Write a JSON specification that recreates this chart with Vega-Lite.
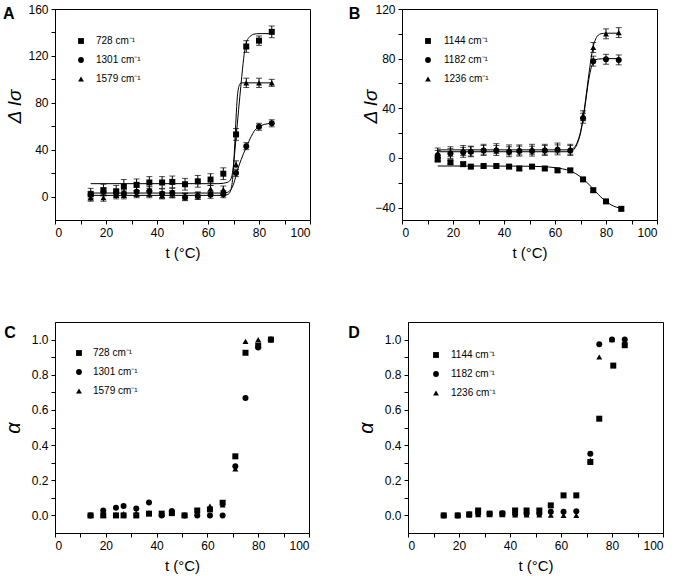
{
  "$schema": "https://vega.github.io/schema/vega-lite/v6.json",
  "padding": {"left": 2, "top": 2, "right": 0, "bottom": 0},
  "background": "white",
  "config": {
    "font": "Liberation Sans",
    "view": {"stroke": "black", "strokeWidth": 1},
    "axis": {"domainColor": "black", "tickColor": "black", "labelColor": "black", "titleColor": "black", "labelFontSize": 12, "titleFontSize": 15, "titleFontWeight": "normal", "grid": false, "tickSize": 4, "labelPadding": 3, "labelFont": "Liberation Sans", "titleFont": "Liberation Sans"},
    "legend": {"orient": "none", "labelFontSize": 10, "labelColor": "black", "symbolSize": 34, "symbolFillColor": "black", "symbolStrokeColor": "black", "rowPadding": 7, "labelFont": "Liberation Sans"},
    "title": {"font": "Liberation Sans", "fontSize": 16, "fontWeight": "bold", "color": "black", "anchor": "start", "frame": "bounds", "baseline": "top", "offset": 0}
  },
  "datasets": {
    "a_pts": [
      {"t":14,"v":2,"e":5,"s":"\u2007728 cm\u207b\u00b9"},{"t":19,"v":5.5,"e":5,"s":"\u2007728 cm\u207b\u00b9"},{"t":24,"v":4.5,"e":5,"s":"\u2007728 cm\u207b\u00b9"},{"t":27,"v":8.5,"e":6,"s":"\u2007728 cm\u207b\u00b9"},{"t":32,"v":10,"e":5,"s":"\u2007728 cm\u207b\u00b9"},{"t":37,"v":12,"e":5,"s":"\u2007728 cm\u207b\u00b9"},{"t":42,"v":12,"e":5,"s":"\u2007728 cm\u207b\u00b9"},{"t":46,"v":12.5,"e":5,"s":"\u2007728 cm\u207b\u00b9"},{"t":51,"v":10.5,"e":5,"s":"\u2007728 cm\u207b\u00b9"},{"t":56,"v":13,"e":5,"s":"\u2007728 cm\u207b\u00b9"},{"t":61,"v":14.5,"e":5,"s":"\u2007728 cm\u207b\u00b9"},{"t":66,"v":19.5,"e":5,"s":"\u2007728 cm\u207b\u00b9"},{"t":71,"v":53,"e":5,"s":"\u2007728 cm\u207b\u00b9"},{"t":75,"v":128,"e":5,"s":"\u2007728 cm\u207b\u00b9"},{"t":80,"v":133,"e":4,"s":"\u2007728 cm\u207b\u00b9"},{"t":85,"v":140.5,"e":5,"s":"\u2007728 cm\u207b\u00b9"},
      {"t":14,"v":1.5,"e":3,"s":"1301 cm\u207b\u00b9"},{"t":19,"v":4,"e":3,"s":"1301 cm\u207b\u00b9"},{"t":24,"v":3,"e":3,"s":"1301 cm\u207b\u00b9"},{"t":27,"v":2.5,"e":3,"s":"1301 cm\u207b\u00b9"},{"t":32,"v":4,"e":4,"s":"1301 cm\u207b\u00b9"},{"t":37,"v":4.5,"e":4,"s":"1301 cm\u207b\u00b9"},{"t":42,"v":2.5,"e":4,"s":"1301 cm\u207b\u00b9"},{"t":46,"v":3,"e":4,"s":"1301 cm\u207b\u00b9"},{"t":51,"v":-0.5,"e":3,"s":"1301 cm\u207b\u00b9"},{"t":56,"v":0.5,"e":3,"s":"1301 cm\u207b\u00b9"},{"t":61,"v":1.5,"e":3,"s":"1301 cm\u207b\u00b9"},{"t":66,"v":2,"e":3,"s":"1301 cm\u207b\u00b9"},{"t":71,"v":20,"e":3,"s":"1301 cm\u207b\u00b9"},{"t":75,"v":43,"e":3,"s":"1301 cm\u207b\u00b9"},{"t":80,"v":59.5,"e":3,"s":"1301 cm\u207b\u00b9"},{"t":85,"v":62.5,"e":3,"s":"1301 cm\u207b\u00b9"},
      {"t":14,"v":-1,"e":3,"s":"1579 cm\u207b\u00b9"},{"t":19,"v":-1,"e":3,"s":"1579 cm\u207b\u00b9"},{"t":24,"v":1,"e":3,"s":"1579 cm\u207b\u00b9"},{"t":27,"v":1,"e":3,"s":"1579 cm\u207b\u00b9"},{"t":32,"v":2,"e":3,"s":"1579 cm\u207b\u00b9"},{"t":37,"v":2,"e":3,"s":"1579 cm\u207b\u00b9"},{"t":42,"v":1,"e":3,"s":"1579 cm\u207b\u00b9"},{"t":46,"v":2,"e":3,"s":"1579 cm\u207b\u00b9"},{"t":51,"v":0,"e":3,"s":"1579 cm\u207b\u00b9"},{"t":56,"v":1,"e":3,"s":"1579 cm\u207b\u00b9"},{"t":61,"v":6.5,"e":3,"s":"1579 cm\u207b\u00b9"},{"t":66,"v":6,"e":3,"s":"1579 cm\u207b\u00b9"},{"t":71,"v":27.5,"e":3,"s":"1579 cm\u207b\u00b9"},{"t":75,"v":97,"e":4,"s":"1579 cm\u207b\u00b9"},{"t":80,"v":97,"e":4,"s":"1579 cm\u207b\u00b9"},{"t":85,"v":97,"e":3,"s":"1579 cm\u207b\u00b9"}
    ],
    "a_fit": [
      {"t":14,"v":11,"s":"728"},{"t":40,"v":11,"s":"728"},{"t":64,"v":11,"s":"728"},{"t":66,"v":11.3,"s":"728"},{"t":67,"v":11.8,"s":"728"},{"t":68,"v":12.5,"s":"728"},{"t":69,"v":15,"s":"728"},{"t":69.5,"v":19,"s":"728"},{"t":70,"v":27,"s":"728"},{"t":70.5,"v":38,"s":"728"},{"t":71,"v":50,"s":"728"},{"t":71.5,"v":62,"s":"728"},{"t":72,"v":74,"s":"728"},{"t":73,"v":97,"s":"728"},{"t":74,"v":118,"s":"728"},{"t":74.5,"v":126,"s":"728"},{"t":75,"v":131,"s":"728"},{"t":76,"v":135.5,"s":"728"},{"t":77,"v":137.5,"s":"728"},{"t":78,"v":138.5,"s":"728"},{"t":80,"v":139,"s":"728"},{"t":85,"v":139,"s":"728"},
      {"t":14,"v":3,"s":"1301"},{"t":40,"v":3,"s":"1301"},{"t":66,"v":3,"s":"1301"},{"t":67,"v":3.3,"s":"1301"},{"t":68,"v":4,"s":"1301"},{"t":69,"v":6,"s":"1301"},{"t":70,"v":10.5,"s":"1301"},{"t":71,"v":18,"s":"1301"},{"t":72,"v":25.5,"s":"1301"},{"t":73,"v":31.5,"s":"1301"},{"t":74,"v":37,"s":"1301"},{"t":75,"v":42,"s":"1301"},{"t":76,"v":47,"s":"1301"},{"t":77,"v":51.5,"s":"1301"},{"t":78,"v":55.5,"s":"1301"},{"t":79,"v":58,"s":"1301"},{"t":80,"v":59.5,"s":"1301"},{"t":82,"v":61.5,"s":"1301"},{"t":85,"v":62.5,"s":"1301"},
      {"t":14,"v":1,"s":"1579"},{"t":40,"v":1,"s":"1579"},{"t":66,"v":1,"s":"1579"},{"t":67,"v":1.3,"s":"1579"},{"t":68,"v":2,"s":"1579"},{"t":69,"v":6,"s":"1579"},{"t":69.5,"v":12,"s":"1579"},{"t":70,"v":25,"s":"1579"},{"t":70.5,"v":45,"s":"1579"},{"t":71,"v":67,"s":"1579"},{"t":71.5,"v":85,"s":"1579"},{"t":72,"v":93,"s":"1579"},{"t":72.5,"v":96,"s":"1579"},{"t":73,"v":97,"s":"1579"},{"t":85,"v":97,"s":"1579"}
    ],
    "b_pts": [
      {"t":14,"v":-1.3,"e":1.5,"s":"1144 cm\u207b\u00b9"},{"t":19,"v":-3.5,"e":1.5,"s":"1144 cm\u207b\u00b9"},{"t":24,"v":-5,"e":1.5,"s":"1144 cm\u207b\u00b9"},{"t":27,"v":-7,"e":1.5,"s":"1144 cm\u207b\u00b9"},{"t":32,"v":-6.5,"e":1.5,"s":"1144 cm\u207b\u00b9"},{"t":37,"v":-6.5,"e":1.5,"s":"1144 cm\u207b\u00b9"},{"t":42,"v":-7,"e":1.5,"s":"1144 cm\u207b\u00b9"},{"t":46,"v":-8.5,"e":1.5,"s":"1144 cm\u207b\u00b9"},{"t":51,"v":-7,"e":1.5,"s":"1144 cm\u207b\u00b9"},{"t":56,"v":-8.5,"e":1.5,"s":"1144 cm\u207b\u00b9"},{"t":61,"v":-10,"e":1.5,"s":"1144 cm\u207b\u00b9"},{"t":66,"v":-10,"e":1.5,"s":"1144 cm\u207b\u00b9"},{"t":71,"v":-17.3,"e":1.5,"s":"1144 cm\u207b\u00b9"},{"t":75,"v":-26,"e":1.5,"s":"1144 cm\u207b\u00b9"},{"t":80,"v":-35,"e":1.5,"s":"1144 cm\u207b\u00b9"},{"t":86,"v":-41,"e":1.5,"s":"1144 cm\u207b\u00b9"},
      {"t":14,"v":2,"e":4,"s":"1182 cm\u207b\u00b9"},{"t":19,"v":3.5,"e":4,"s":"1182 cm\u207b\u00b9"},{"t":24,"v":4.5,"e":4,"s":"1182 cm\u207b\u00b9"},{"t":27,"v":5,"e":4,"s":"1182 cm\u207b\u00b9"},{"t":32,"v":6,"e":4,"s":"1182 cm\u207b\u00b9"},{"t":37,"v":6,"e":4,"s":"1182 cm\u207b\u00b9"},{"t":42,"v":5,"e":4,"s":"1182 cm\u207b\u00b9"},{"t":46,"v":5.5,"e":4,"s":"1182 cm\u207b\u00b9"},{"t":51,"v":5.5,"e":4,"s":"1182 cm\u207b\u00b9"},{"t":56,"v":6,"e":4,"s":"1182 cm\u207b\u00b9"},{"t":61,"v":6.5,"e":4,"s":"1182 cm\u207b\u00b9"},{"t":66,"v":6,"e":4,"s":"1182 cm\u207b\u00b9"},{"t":71,"v":32,"e":4,"s":"1182 cm\u207b\u00b9"},{"t":75,"v":78,"e":4,"s":"1182 cm\u207b\u00b9"},{"t":80,"v":79.5,"e":4,"s":"1182 cm\u207b\u00b9"},{"t":85,"v":79,"e":4,"s":"1182 cm\u207b\u00b9"},
      {"t":14,"v":4,"e":4,"s":"1236 cm\u207b\u00b9"},{"t":19,"v":5,"e":4,"s":"1236 cm\u207b\u00b9"},{"t":24,"v":6,"e":4,"s":"1236 cm\u207b\u00b9"},{"t":27,"v":5.5,"e":4,"s":"1236 cm\u207b\u00b9"},{"t":32,"v":7,"e":4,"s":"1236 cm\u207b\u00b9"},{"t":37,"v":7.5,"e":4,"s":"1236 cm\u207b\u00b9"},{"t":42,"v":6.5,"e":4,"s":"1236 cm\u207b\u00b9"},{"t":46,"v":6.5,"e":4,"s":"1236 cm\u207b\u00b9"},{"t":51,"v":7,"e":4,"s":"1236 cm\u207b\u00b9"},{"t":56,"v":7,"e":4,"s":"1236 cm\u207b\u00b9"},{"t":61,"v":8,"e":4,"s":"1236 cm\u207b\u00b9"},{"t":66,"v":7,"e":4,"s":"1236 cm\u207b\u00b9"},{"t":71,"v":34,"e":4,"s":"1236 cm\u207b\u00b9"},{"t":75,"v":89,"e":4,"s":"1236 cm\u207b\u00b9"},{"t":80,"v":100,"e":4,"s":"1236 cm\u207b\u00b9"},{"t":85,"v":101,"e":4,"s":"1236 cm\u207b\u00b9"}
    ],
    "b_fit": [
      {"t":14,"v":-6.5,"s":"1144"},{"t":30,"v":-6.5,"s":"1144"},{"t":45,"v":-6.6,"s":"1144"},{"t":55,"v":-7,"s":"1144"},{"t":60,"v":-7.8,"s":"1144"},{"t":63,"v":-8.8,"s":"1144"},{"t":66,"v":-10.5,"s":"1144"},{"t":68,"v":-12.5,"s":"1144"},{"t":70,"v":-15.2,"s":"1144"},{"t":72,"v":-18.7,"s":"1144"},{"t":74,"v":-22.8,"s":"1144"},{"t":76,"v":-27.3,"s":"1144"},{"t":78,"v":-31.5,"s":"1144"},{"t":80,"v":-35,"s":"1144"},{"t":82,"v":-37.8,"s":"1144"},{"t":84,"v":-39.6,"s":"1144"},{"t":86,"v":-40.8,"s":"1144"},
      {"t":14,"v":5,"s":"1182"},{"t":40,"v":5,"s":"1182"},{"t":66,"v":5,"s":"1182"},{"t":67,"v":6,"s":"1182"},{"t":68,"v":8.5,"s":"1182"},{"t":69,"v":13,"s":"1182"},{"t":70,"v":20,"s":"1182"},{"t":71,"v":31,"s":"1182"},{"t":72,"v":45,"s":"1182"},{"t":73,"v":60,"s":"1182"},{"t":74,"v":71,"s":"1182"},{"t":75,"v":77,"s":"1182"},{"t":76,"v":79,"s":"1182"},{"t":77,"v":79.7,"s":"1182"},{"t":80,"v":80,"s":"1182"},{"t":85,"v":80,"s":"1182"},
      {"t":14,"v":6.5,"s":"1236"},{"t":40,"v":6.5,"s":"1236"},{"t":66,"v":6.5,"s":"1236"},{"t":67,"v":7.5,"s":"1236"},{"t":68,"v":9.5,"s":"1236"},{"t":69,"v":14,"s":"1236"},{"t":70,"v":21,"s":"1236"},{"t":71,"v":32,"s":"1236"},{"t":72,"v":47,"s":"1236"},{"t":73,"v":63,"s":"1236"},{"t":74,"v":78,"s":"1236"},{"t":75,"v":90,"s":"1236"},{"t":76,"v":96,"s":"1236"},{"t":77,"v":99,"s":"1236"},{"t":78,"v":100,"s":"1236"},{"t":80,"v":100.5,"s":"1236"},{"t":85,"v":100.5,"s":"1236"}
    ],
    "c_pts": [
      {"t":14,"v":0,"s":"\u2007728 cm\u207b\u00b9"},{"t":19,"v":0,"s":"\u2007728 cm\u207b\u00b9"},{"t":24,"v":0,"s":"\u2007728 cm\u207b\u00b9"},{"t":27,"v":0,"s":"\u2007728 cm\u207b\u00b9"},{"t":32,"v":0,"s":"\u2007728 cm\u207b\u00b9"},{"t":37,"v":0.01,"s":"\u2007728 cm\u207b\u00b9"},{"t":42,"v":0.01,"s":"\u2007728 cm\u207b\u00b9"},{"t":46,"v":0.013,"s":"\u2007728 cm\u207b\u00b9"},{"t":51,"v":0,"s":"\u2007728 cm\u207b\u00b9"},{"t":56,"v":0.028,"s":"\u2007728 cm\u207b\u00b9"},{"t":61,"v":0.034,"s":"\u2007728 cm\u207b\u00b9"},{"t":66,"v":0.072,"s":"\u2007728 cm\u207b\u00b9"},{"t":71,"v":0.336,"s":"\u2007728 cm\u207b\u00b9"},{"t":75,"v":0.925,"s":"\u2007728 cm\u207b\u00b9"},{"t":80,"v":0.966,"s":"\u2007728 cm\u207b\u00b9"},{"t":85,"v":1.0,"s":"\u2007728 cm\u207b\u00b9"},
      {"t":14,"v":0,"s":"1301 cm\u207b\u00b9"},{"t":19,"v":0.028,"s":"1301 cm\u207b\u00b9"},{"t":24,"v":0.044,"s":"1301 cm\u207b\u00b9"},{"t":27,"v":0.053,"s":"1301 cm\u207b\u00b9"},{"t":32,"v":0.04,"s":"1301 cm\u207b\u00b9"},{"t":37,"v":0.074,"s":"1301 cm\u207b\u00b9"},{"t":42,"v":0,"s":"1301 cm\u207b\u00b9"},{"t":46,"v":0.025,"s":"1301 cm\u207b\u00b9"},{"t":51,"v":0,"s":"1301 cm\u207b\u00b9"},{"t":56,"v":0,"s":"1301 cm\u207b\u00b9"},{"t":61,"v":0,"s":"1301 cm\u207b\u00b9"},{"t":66,"v":0,"s":"1301 cm\u207b\u00b9"},{"t":71,"v":0.279,"s":"1301 cm\u207b\u00b9"},{"t":75,"v":0.668,"s":"1301 cm\u207b\u00b9"},{"t":80,"v":0.955,"s":"1301 cm\u207b\u00b9"},{"t":85,"v":1.0,"s":"1301 cm\u207b\u00b9"},
      {"t":14,"v":0,"s":"1579 cm\u207b\u00b9"},{"t":19,"v":0.005,"s":"1579 cm\u207b\u00b9"},{"t":24,"v":0.005,"s":"1579 cm\u207b\u00b9"},{"t":27,"v":0.01,"s":"1579 cm\u207b\u00b9"},{"t":32,"v":0.015,"s":"1579 cm\u207b\u00b9"},{"t":37,"v":0.015,"s":"1579 cm\u207b\u00b9"},{"t":42,"v":0.01,"s":"1579 cm\u207b\u00b9"},{"t":46,"v":0.02,"s":"1579 cm\u207b\u00b9"},{"t":51,"v":0,"s":"1579 cm\u207b\u00b9"},{"t":56,"v":0.015,"s":"1579 cm\u207b\u00b9"},{"t":61,"v":0.053,"s":"1579 cm\u207b\u00b9"},{"t":66,"v":0.06,"s":"1579 cm\u207b\u00b9"},{"t":71,"v":0.264,"s":"1579 cm\u207b\u00b9"},{"t":75,"v":0.99,"s":"1579 cm\u207b\u00b9"},{"t":80,"v":1.0,"s":"1579 cm\u207b\u00b9"},{"t":85,"v":1.0,"s":"1579 cm\u207b\u00b9"}
    ],
    "d_pts": [
      {"t":14,"v":0,"s":"1144 cm\u207b\u00b9"},{"t":19.5,"v":0,"s":"1144 cm\u207b\u00b9"},{"t":24,"v":0.006,"s":"1144 cm\u207b\u00b9"},{"t":27.5,"v":0.028,"s":"1144 cm\u207b\u00b9"},{"t":32,"v":0.01,"s":"1144 cm\u207b\u00b9"},{"t":37,"v":0.01,"s":"1144 cm\u207b\u00b9"},{"t":42,"v":0.028,"s":"1144 cm\u207b\u00b9"},{"t":46.5,"v":0.028,"s":"1144 cm\u207b\u00b9"},{"t":51.5,"v":0.028,"s":"1144 cm\u207b\u00b9"},{"t":56,"v":0.057,"s":"1144 cm\u207b\u00b9"},{"t":61,"v":0.114,"s":"1144 cm\u207b\u00b9"},{"t":66,"v":0.114,"s":"1144 cm\u207b\u00b9"},{"t":71.5,"v":0.304,"s":"1144 cm\u207b\u00b9"},{"t":75,"v":0.55,"s":"1144 cm\u207b\u00b9"},{"t":80.5,"v":0.852,"s":"1144 cm\u207b\u00b9"},{"t":85,"v":0.968,"s":"1144 cm\u207b\u00b9"},
      {"t":14,"v":0,"s":"1182 cm\u207b\u00b9"},{"t":19.5,"v":0,"s":"1182 cm\u207b\u00b9"},{"t":24,"v":0.005,"s":"1182 cm\u207b\u00b9"},{"t":27.5,"v":0.01,"s":"1182 cm\u207b\u00b9"},{"t":32,"v":0.01,"s":"1182 cm\u207b\u00b9"},{"t":37,"v":0.013,"s":"1182 cm\u207b\u00b9"},{"t":42,"v":0.006,"s":"1182 cm\u207b\u00b9"},{"t":46.5,"v":0.01,"s":"1182 cm\u207b\u00b9"},{"t":51.5,"v":0.01,"s":"1182 cm\u207b\u00b9"},{"t":56,"v":0.021,"s":"1182 cm\u207b\u00b9"},{"t":61,"v":0.021,"s":"1182 cm\u207b\u00b9"},{"t":66,"v":0.023,"s":"1182 cm\u207b\u00b9"},{"t":71.5,"v":0.351,"s":"1182 cm\u207b\u00b9"},{"t":75,"v":0.973,"s":"1182 cm\u207b\u00b9"},{"t":80,"v":1.0,"s":"1182 cm\u207b\u00b9"},{"t":85,"v":1.0,"s":"1182 cm\u207b\u00b9"},
      {"t":14,"v":0,"s":"1236 cm\u207b\u00b9"},{"t":19.5,"v":0,"s":"1236 cm\u207b\u00b9"},{"t":24,"v":0.003,"s":"1236 cm\u207b\u00b9"},{"t":27.5,"v":0.005,"s":"1236 cm\u207b\u00b9"},{"t":32,"v":0.005,"s":"1236 cm\u207b\u00b9"},{"t":37,"v":0.005,"s":"1236 cm\u207b\u00b9"},{"t":42,"v":0.003,"s":"1236 cm\u207b\u00b9"},{"t":46.5,"v":0.003,"s":"1236 cm\u207b\u00b9"},{"t":51.5,"v":0.003,"s":"1236 cm\u207b\u00b9"},{"t":56,"v":0.002,"s":"1236 cm\u207b\u00b9"},{"t":61,"v":0,"s":"1236 cm\u207b\u00b9"},{"t":66,"v":0,"s":"1236 cm\u207b\u00b9"},{"t":71.5,"v":0.313,"s":"1236 cm\u207b\u00b9"},{"t":75,"v":0.901,"s":"1236 cm\u207b\u00b9"},{"t":80,"v":1.0,"s":"1236 cm\u207b\u00b9"},{"t":85,"v":0.987,"s":"1236 cm\u207b\u00b9"}
    ]
  },
  "vconcat": [
    {
      "hconcat": [
        {
          "width": 255, "height": 211,
          "title": {"text": "A", "dx": -3, "dy": 23},
          "encoding": {
            "x": {"field": "t", "type": "quantitative", "scale": {"domain": [0, 100], "nice": false}, "axis": {"values": [0,10,20,30,40,50,60,70,80,90,100], "labelExpr": "datum.value % 20 === 0 ? datum.label : ''", "title": "t (°C)", "titlePadding": 7}},
            "y": {"field": "v", "type": "quantitative", "scale": {"domain": [-20, 160], "nice": false, "zero": false}, "axis": {"values": [0,20,40,60,80,100,120,140,160], "labelExpr": "datum.value % 40 === 0 ? datum.label : ''", "title": "Δ Iσ", "titleFontSize": 19, "titleFontStyle": "italic", "titlePadding": 3, "titleY": 97}}
          },
          "layer": [
            {"data": {"name": "a_fit"}, "mark": {"type": "line", "interpolate": "monotone", "color": "black", "strokeWidth": 1},
             "encoding": {"detail": {"field": "s"}}},
            {"data": {"name": "a_pts"}, "mark": {"type": "errorbar", "color": "black", "thickness": 1, "ticks": {"size": 6, "color": "black"}},
             "encoding": {"yError": {"field": "e"}}},
            {"data": {"name": "a_pts"}, "mark": {"type": "point", "filled": true, "color": "black", "size": 36, "opacity": 1},
             "encoding": {
               "shape": {"field": "s", "type": "nominal", "scale": {"domain": ["\u2007728 cm\u207b\u00b9", "1301 cm\u207b\u00b9", "1579 cm\u207b\u00b9"], "range": ["square", "circle", "triangle-up"]}, "legend": {"title": null, "legendX": 21, "legendY": 27, "labelOffset": 10}}
             }}
          ]
        },
        {
          "width": 255, "height": 211,
          "title": {"text": "B", "dx": -13, "dy": 23},
          "encoding": {
            "x": {"field": "t", "type": "quantitative", "scale": {"domain": [0, 100], "nice": false}, "axis": {"values": [0,10,20,30,40,50,60,70,80,90,100], "labelExpr": "datum.value % 20 === 0 ? datum.label : ''", "title": "t (°C)", "titlePadding": 7}},
            "y": {"field": "v", "type": "quantitative", "scale": {"domain": [-50, 120], "nice": false, "zero": false}, "axis": {"values": [-40,-20,0,20,40,60,80,100,120], "labelExpr": "datum.value % 40 === 0 ? datum.label : ''", "title": "Δ Iσ", "titleFontSize": 19, "titleFontStyle": "italic", "titlePadding": -6, "titleY": 97}}
          },
          "layer": [
            {"data": {"name": "b_fit"}, "mark": {"type": "line", "interpolate": "monotone", "color": "black", "strokeWidth": 1},
             "encoding": {"detail": {"field": "s"}}},
            {"data": {"name": "b_pts"}, "mark": {"type": "errorbar", "color": "black", "thickness": 1, "ticks": {"size": 6, "color": "black"}},
             "encoding": {"yError": {"field": "e"}}},
            {"data": {"name": "b_pts"}, "mark": {"type": "point", "filled": true, "color": "black", "size": 36, "opacity": 1},
             "encoding": {
               "shape": {"field": "s", "type": "nominal", "scale": {"domain": ["1144 cm\u207b\u00b9", "1182 cm\u207b\u00b9", "1236 cm\u207b\u00b9"], "range": ["square", "circle", "triangle-up"]}, "legend": {"title": null, "legendX": 21, "legendY": 27, "labelOffset": 11}}
             }}
          ]
        }
      ],
      "spacing": 92,
      "bounds": "flush",
      "resolve": {"scale": {"shape": "independent"}, "legend": {"shape": "independent"}}
    },
    {
      "hconcat": [
        {
          "width": 254, "height": 211,
          "title": {"text": "C", "dx": 1, "dy": 23},
          "data": {"name": "c_pts"},
          "mark": {"type": "point", "filled": true, "color": "black", "size": 36, "opacity": 1},
          "encoding": {
            "x": {"field": "t", "type": "quantitative", "scale": {"domain": [0, 100], "nice": false}, "axis": {"values": [0,10,20,30,40,50,60,70,80,90,100], "labelExpr": "datum.value % 20 === 0 ? datum.label : ''", "title": "t (°C)", "titlePadding": 7}},
            "y": {"field": "v", "type": "quantitative", "scale": {"domain": [-0.1, 1.1], "nice": false, "zero": false}, "axis": {"values": [0,0.1,0.2,0.3,0.4,0.5,0.6,0.7,0.8,0.9,1.0], "labelExpr": "round(datum.value*10) % 2 === 0 ? format(datum.value, '.1f') : ''", "title": "α", "titleFontSize": 20, "titleFontStyle": "italic", "titlePadding": 8}},
            "shape": {"field": "s", "type": "nominal", "scale": {"domain": ["\u2007728 cm\u207b\u00b9", "1301 cm\u207b\u00b9", "1579 cm\u207b\u00b9"], "range": ["square", "circle", "triangle-up"]}, "legend": {"title": null, "legendX": 19, "legendY": 26, "labelOffset": 9}}
          }
        },
        {
          "width": 255, "height": 211,
          "title": {"text": "D", "dx": -8, "dy": 23},
          "data": {"name": "d_pts"},
          "mark": {"type": "point", "filled": true, "color": "black", "size": 36, "opacity": 1},
          "encoding": {
            "x": {"field": "t", "type": "quantitative", "scale": {"domain": [0, 100], "nice": false}, "axis": {"values": [0,10,20,30,40,50,60,70,80,90,100], "labelExpr": "datum.value % 20 === 0 ? datum.label : ''", "title": "t (°C)", "titlePadding": 7}},
            "y": {"field": "v", "type": "quantitative", "scale": {"domain": [-0.1, 1.1], "nice": false, "zero": false}, "axis": {"values": [0,0.1,0.2,0.3,0.4,0.5,0.6,0.7,0.8,0.9,1.0], "labelExpr": "round(datum.value*10) % 2 === 0 ? format(datum.value, '.1f') : ''", "title": "α", "titleFontSize": 20, "titleFontStyle": "italic", "titlePadding": 8}},
            "shape": {"field": "s", "type": "nominal", "scale": {"domain": ["1144 cm\u207b\u00b9", "1182 cm\u207b\u00b9", "1236 cm\u207b\u00b9"], "range": ["square", "circle", "triangle-up"]}, "legend": {"title": null, "legendX": 23, "legendY": 28, "labelOffset": 10}}
          }
        }
      ],
      "spacing": 99,
      "bounds": "flush",
      "resolve": {"scale": {"shape": "independent"}, "legend": {"shape": "independent"}}
    }
  ],
  "spacing": 60,
  "resolve": {"scale": {"shape": "independent"}, "legend": {"shape": "independent"}}
}
